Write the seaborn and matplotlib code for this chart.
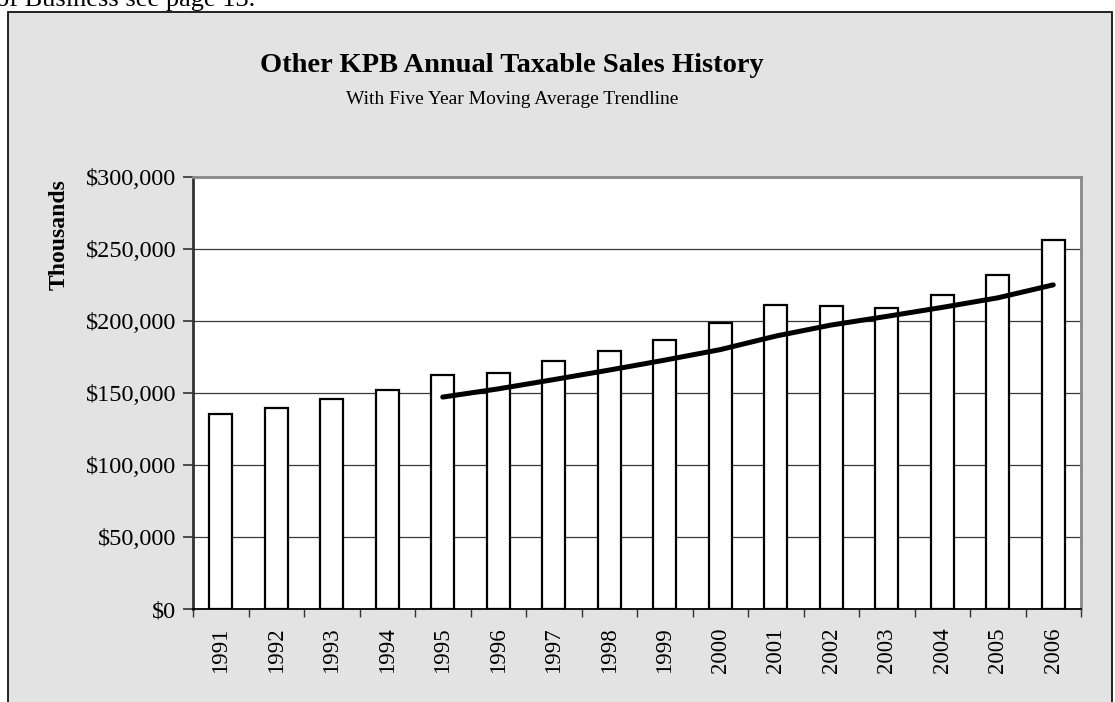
import numpy as np
import pandas as pd
import matplotlib
matplotlib.use("Agg")
import matplotlib.pyplot as plt
import matplotlib.patches as mpatches
from matplotlib.ticker import FuncFormatter, FixedLocator
import seaborn as sns

years = ["1991", "1992", "1993", "1994", "1995", "1996", "1997", "1998",
         "1999", "2000", "2001", "2002", "2003", "2004", "2005", "2006"]
sales = [135.8, 140.0, 146.3, 152.3, 162.5, 164.3, 172.2, 179.4,
         186.8, 199.0, 211.3, 210.6, 209.4, 218.0, 232.2, 256.3]  # $ millions
sales_thousands = [v * 1000 for v in sales]
y_ticks = [0, 50000, 100000, 150000, 200000, 250000, 300000]

df = pd.DataFrame({"year": years, "sales": sales_thousands})
df["pos"] = np.arange(len(years))
df["ma5"] = df["sales"].rolling(5).mean()

sns.set_theme(style="white")
plt.rcParams["font.family"] = ["Liberation Serif", "DejaVu Serif"]
for k in ["text.color", "xtick.color", "ytick.color", "axes.labelcolor"]:
    plt.rcParams[k] = "black"

W, H = 1115, 702
fig = plt.figure(figsize=(W / 100, H / 100), dpi=100)
fig.patch.set_facecolor("white")

# outer gray chart box
box = mpatches.Rectangle((8 / W, -0.05), (1112 - 8) / W, 1.05 - 12 / H,
                         transform=fig.transFigure, facecolor="#e3e3e3",
                         edgecolor="black", linewidth=1.2, zorder=-5)
fig.patches.append(box)

fig.text(-4 / W, 1 - 6 / H, "of Business see page 13.", fontsize=19,
         ha="left", va="baseline", color="black")

ax = fig.add_axes([193 / W, (H - 609.3) / H, (1081 - 193) / W, (609.3 - 177.3) / H])
ax.set_zorder(2)
ax.set_facecolor("white")

sns.barplot(data=df, x="year", y="sales", color="white", edgecolor="black",
            linewidth=1.6, width=0.42, saturation=1, ax=ax, zorder=3)
sub = df.dropna()
sns.lineplot(x=sub["pos"], y=sub["ma5"], color="black", linewidth=3.6,
             ax=ax, zorder=4, solid_capstyle="round")

ax.set_xlim(-0.5, len(years) - 0.5)
ax.set_ylim(0, 300000)
ax.yaxis.set_major_locator(FixedLocator(y_ticks))
ax.yaxis.set_major_formatter(FuncFormatter(lambda v, p: "${:,.0f}".format(v)))
ax.grid(axis="y", color="#3a3a3a", linewidth=0.9, zorder=1)
ax.grid(axis="x", visible=False)
ax.set_axisbelow(True)

ax.set_xticks(np.arange(len(years)))
ax.set_xticklabels(years, rotation=90, fontsize=16.5)
ax.xaxis.set_minor_locator(FixedLocator(np.arange(-0.5, len(years), 1.0)))
ax.tick_params(axis="x", which="major", length=0, pad=13)
ax.tick_params(axis="x", which="minor", length=6, width=1, color="#333333",
               direction="out", bottom=True)
ax.tick_params(axis="y", which="major", length=7, width=1.2, color="#333333",
               direction="out", left=True, labelsize=17.5, pad=5)

ax.set_xlabel("")
ax.set_ylabel("")

for s in ["top", "right"]:
    ax.spines[s].set_color("#888888")
    ax.spines[s].set_linewidth(2)
ax.spines["left"].set_color("#333333")
ax.spines["left"].set_linewidth(2)
ax.spines["bottom"].set_color("black")
ax.spines["bottom"].set_linewidth(1.3)
for s in ax.spines.values():
    s.set_visible(True)
    s.set_zorder(5)

fig.text(59 / W, 1 - 235 / H, "Thousands", rotation=90, fontsize=17,
         fontweight="bold", ha="center", va="center")
fig.text(512 / W, 1 - 65 / H, "Other KPB Annual Taxable Sales History",
         fontsize=20.5, fontweight="bold", ha="center", va="center")
fig.text(512 / W, 1 - 100 / H, "With Five Year Moving Average Trendline",
         fontsize=14, ha="center", va="center")

fig.savefig("out.png", dpi=100, facecolor=fig.get_facecolor())
